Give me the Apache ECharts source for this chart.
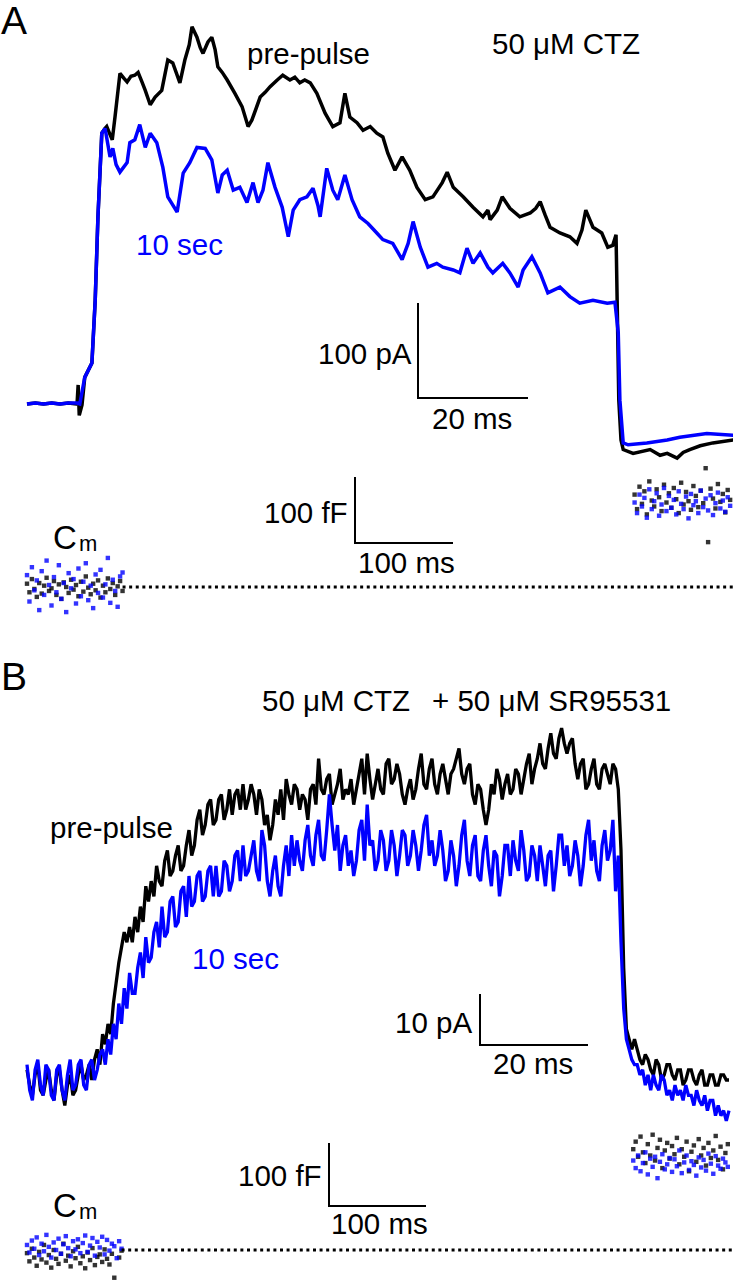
<!DOCTYPE html>
<html><head><meta charset="utf-8">
<script src="https://cdn.jsdelivr.net/npm/echarts@6/dist/echarts.min.js"></script>
<style>html,body{margin:0;padding:0;background:#fff}#c{width:733px;height:1280px}</style>
</head><body><div id="c"></div>
<script>
// ---------- Panel A current traces: [time ms, current pA] ----------
const traceA_prepulse = [
[0,-1],[1.5,0],[3,-1],[4.5,0],[6,-1],[7.5,0],[9.1,-1],[9.3,19],[9.5,-13],[10,-2],[10.5,27],[11.8,42],[12.4,108],[12.9,196],[13.6,284],[14.2,289],[14.5,291],[15.5,277],[16,301],[16.9,347],[17.6,342],[18.2,338],[18.9,344],[19.6,345],[20.2,348],[20.9,338],[21.5,329],[22.4,314],[23.3,322],[24.5,329],[25.6,361],[26.5,358],[27.8,337],[28.7,361],[29.5,377],[30,396],[30.9,385],[31.5,374],[32,368],[32.9,380],[33.6,385],[34.2,372],[34.7,354],[35.5,348],[36.4,340],[37.8,326],[39.1,312],[40.2,291],[40.9,298],[42.4,322],[43.3,327],[44.2,333],[45.5,340],[46.5,345],[47.8,340],[48.7,343],[49.6,337],[50.5,340],[51.5,337],[52.7,326],[54.2,305],[55.6,291],[56.9,295],[57.8,326],[58.7,301],[60,295],[61.1,287],[62.4,291],[63.6,284],[64.7,280],[65.6,263],[66.9,245],[68.2,259],[69.6,245],[70.9,227],[72.4,214],[73.8,217],[75.5,232],[76.4,243],[77.5,227],[79.3,217],[81.1,206],[82.9,196],[83.8,203],[84.2,193],[85.5,203],[86.4,217],[87.8,205],[89.6,196],[91.5,200],[92.5,205],[93.3,212],[94.2,198],[95.1,185],[96.9,179],[98.7,175],[100,168],[100.9,182],[101.6,203],[102.9,185],[104.5,179],[105.6,164],[106.5,166],[107.1,177],[107.3,108],[107.6,3],[108,-39],[108.4,-49],[110.2,-53],[113.3,-49],[115.1,-55],[116.4,-53],[118.2,-58],[119.3,-52],[120.5,-49],[122.4,-45],[124.7,-42],[128.4,-39],[130,-38]
];
const traceA_10sec = [
[0,-1],[1.5,0],[3,-1],[4.5,0],[6,-1],[7.5,0],[9.1,0],[9.6,-1],[10.5,27],[11.8,42],[12.4,108],[12.9,196],[13.6,284],[14.2,289],[15.1,259],[15.6,268],[16.2,251],[16.9,243],[18.2,253],[18.7,274],[19.6,277],[20.5,293],[21.5,269],[22.4,284],[23.6,274],[24.7,248],[25.6,217],[27.3,201],[28.4,242],[29.6,253],[30.9,269],[32.4,268],[33.6,256],[34.7,221],[35.5,240],[36.4,245],[37.5,224],[38.7,227],[40,211],[41.1,232],[42,211],[42.9,224],[43.8,253],[45.1,227],[46.4,206],[47.5,175],[48.4,203],[49.6,214],[50.9,217],[52,226],[52.9,208],[53.3,196],[54.5,247],[55.6,224],[56.5,214],[57.8,240],[59.1,214],[60.5,196],[62,189],[63.6,179],[64.7,172],[66.5,168],[68.2,151],[69.3,168],[70.2,191],[71.5,164],[72.9,143],[74.5,147],[75.6,143],[77.5,140],[78.7,137],[80,163],[81.1,147],[82.4,158],[83.8,143],[84.7,137],[86.5,147],[87.8,137],[89.3,122],[90.2,140],[91.8,154],[93.3,137],[94.7,116],[96.9,122],[98.7,112],[100.5,105],[102.9,108],[105.5,105],[106.9,106],[107.5,74],[107.8,3],[108.4,-42],[109.3,-44],[112.7,-42],[116.4,-39],[118.7,-36],[123.6,-32],[128.4,-34],[130,-33]
];

// ---------- Panel B current traces: sampled every traceB_dt ms, pA ----------
const traceB_dt = 0.5;
const traceB_prepulse = [
2,-1,-3,1,3,-2,-3,0,2,-2, -4,1,2,-2,-5,-1,1,-3,-2,1, 3,0,1,3,0,4,6,3,9,7, 11,9,15,19,23,26,29,27,30,27,
32,29,34,31,38,35,39,36,42,39, 38,43,45,40,41,44,46,41,42,46, 49,44,46,51,53,48,50,54,55,50, 51,55,56,51,53,57,52,56,57,53,
58,53,55,58,56,52,57,55,50,52, 47,50,55,52,57,51,59,56,54,58, 57,53,56,55,51,57,58,54,63,57, 56,59,60,54,56,58,61,55,57,56,
59,54,57,60,63,56,64,59,55,58, 61,57,56,62,63,58,59,62,60,56, 54,57,59,55,57,61,64,58,57,61, 63,58,56,60,62,59,56,60,61,63,
65,60,58,61,62,56,54,58,57,53, 50,53,58,56,61,59,55,58,60,56, 57,61,60,56,59,62,64,58,61,63, 66,62,61,65,68,64,63,67,69,66,
64,66,67,62,59,62,63,57,58,61, 63,58,57,61,62,60,58,62,61,57, 45,22,10,8,6,8,6,4,3,5, 4,2,1,4,3,0,1,3,3,1,
0,2,2,-1,0,2,2,0,-1,1, 2,-1,-1,1,1,-1,-1,1,1,0, 0
];
const traceB_10sec = [
3,-2,-4,2,4,-1,-3,3,2,-3, -4,2,3,-2,-4,1,4,-2,-1,3, 4,-1,-2,3,4,0,2,5,6,3, 8,5,11,8,15,11,18,14,21,17,
17,22,25,20,28,23,24,29,31,26, 34,28,29,35,36,30,31,37,38,32, 40,34,35,40,41,35,36,41,42,36, 42,36,37,43,42,37,39,44,45,39,
46,40,41,44,47,41,39,49,46,39, 36,41,44,38,36,42,46,40,48,42, 47,43,41,47,50,44,42,48,51,44, 43,49,56,50,45,50,41,46,48,42,
45,40,43,49,51,43,54,46,47,41, 43,49,47,41,43,49,46,40,44,49, 48,42,44,49,46,41,45,50,52,44, 47,42,44,49,45,39,41,47,44,38,
42,48,51,43,40,46,48,40,39,45, 48,42,38,45,44,36,40,46,46,40, 47,43,41,49,45,39,40,46,44,39, 46,42,38,44,45,37,42,48,48,42,
46,40,42,47,44,38,42,48,51,43, 47,41,39,46,49,43,45,51,37,44, 27,14,8,6,4,3,3,1,2,-1, 1,-2,1,-1,-2,1,0,-3,-2,-4,
-1,-3,-2,-4,-1,-3,-3,-5,-2,-4, -5,-3,-6,-4,-4,-7,-5,-7,-6,-8, -6
];

// ---------- Membrane capacitance samples (fF), sampled every cmStep ms ----------
const cmStep = 2.5;
const cmA_leftStart = 0, cmA_rightStart = 620, cmB_leftStart = 0, cmB_rightStart = 625;
const cmA_pre_left  = [5,-8,12,-3,-15,6,-10,2,14,-6,-2,9,-12,4,-18,7,0,-9,11,-4,3,-14,8,-7,16,-1,-11,5,-5,10,-16,2,-8,13,-3,6,-12,1,9,-6];
const cmA_10s_left  = [18,-22,30,-5,10,-35,24,-12,40,3,-28,15,-8,33,-18,6,-38,21,-2,12,-25,28,-14,8,36,-20,2,-32,19,-9,26,-16,4,44,-24,11,-6,-30,16,22];
const cmA_pre_right = [140,118,152,126,145,110,160,131,122,148,136,115,155,128,142,120,150,133,112,158,125,144,130,117,153,138,121,146,127,180,68,149,134,119,156,129,141,113,147,132];
const cmA_10s_right = [128,112,140,122,135,105,148,118,130,142,108,125,150,115,138,120,132,110,145,126,118,137,104,141,124,130,112,146,121,134,116,139,109,127,143,119,131,114,136,123];
const cmB_pre_left  = [-5,-18,2,-12,-25,-3,-15,8,-20,-8,-28,0,-14,-22,-6,10,-17,-9,-26,-2,-13,5,-21,-10,-29,-4,-16,3,-24,-11,-7,-19,1,-14,-23,-6,-44,-54,-12,-1];
const cmB_10s_left  = [8,-4,15,2,20,-8,10,-2,24,5,-12,12,0,18,-6,9,22,3,-10,14,1,17,-5,11,23,-3,7,19,-9,13,4,21,-7,16,-1,10,6,-13,14,2];
const cmB_pre_right = [160,172,148,180,155,138,168,150,183,142,162,175,130,158,170,145,165,152,178,136,160,148,172,125,156,166,140,176,150,162,134,170,146,158,181,143,164,128,154,168];
const cmB_10s_right = [142,130,150,125,138,155,120,145,132,148,114,140,152,128,136,146,124,144,133,158,122,139,150,127,141,135,118,147,131,143,126,153,137,121,149,134,129,145,139,132];
const cmBaseline = 0;
const cmEnd = 740;

// ---------- Labels ----------
const labels = {
  panelA: 'A', panelB: 'B', prepulse: 'pre-pulse', tenSec: '10 sec',
  drugA: '50 \u03bcM CTZ', drugB1: '50 \u03bcM CTZ', drugB2: '+ 50 \u03bcM SR95531',
  pA100: '100 pA', pA10: '10 pA', ms20: '20 ms', fF100: '100 fF', ms100: '100 ms', cmC: 'C', cmSub: 'm'
};
const scaleA = {t: 20, v: 100}, scaleB = {t: 20, v: 10}, scaleCm = {t: 100, v: 100};

const BLUE = '#0000ff', BLACK = '#000000';
const FONT = "'Liberation Sans', Arial, sans-serif";

const uni = (arr, dt, t0) => arr.map((v, i) => [t0 + i * dt, v]);

const chart = echarts.init(document.getElementById('c'), null, {renderer: 'svg', width: 733, height: 1280});

const hiddenAxis = (gi, min, max) => ({type: 'value', gridIndex: gi, min, max, show: false, axisLine:{show:false}, splitLine:{show:false}});

function lineSeries(ai, data, color, w) {
  return {type: 'line', xAxisIndex: ai, yAxisIndex: ai, data, showSymbol: false, symbol: 'none',
    clip: false, silent: true, lineStyle: {color, width: w, join: 'miter', miterLimit: 2}, animation: false};
}
function dotSeries(ai, data, color) {
  return {type: 'scatter', xAxisIndex: ai, yAxisIndex: ai, data, symbol: 'rect', symbolSize: 4.4,
    clip: false, silent: true, itemStyle: {color}, animation: false};
}

const cmLeftEndA = cmA_leftStart + (cmA_pre_left.length - 1) * cmStep;
const cmLeftEndB = cmB_leftStart + (cmB_pre_left.length - 1) * cmStep;

const G = (o) => Object.assign({outerBoundsMode: 'none', containLabel: false}, o);

chart.setOption({
  animation: false,
  backgroundColor: '#ffffff',
  grid: [
    G({left: 27, top: 4, width: 706, height: 494}),
    G({left: 27, top: 455, width: 706, height: 198}),
    G({left: 27, top: 697.5, width: 706, height: 459}),
    G({left: 27, top: 1124, width: 706, height: 154.35})
  ],
  xAxis: [hiddenAxis(0, 0, 706 / 5.5), hiddenAxis(1, 0, 706 / 0.98), hiddenAxis(2, 0, 706 / 5.4), hiddenAxis(3, 0, 706 / 0.97)],
  yAxis: [hiddenAxis(0, -100, 420), hiddenAxis(1, -100, 200), hiddenAxis(2, -15, 75), hiddenAxis(3, -45, 200)],
  series: [
    lineSeries(0, traceA_prepulse, BLACK, 3.5),
    lineSeries(0, traceA_10sec, BLUE, 3.5),
    lineSeries(2, uni(traceB_prepulse, traceB_dt, 0), BLACK, 3.3),
    lineSeries(2, uni(traceB_10sec, traceB_dt, 0), BLUE, 3.3),
    {type: 'line', xAxisIndex: 1, yAxisIndex: 1, data: [[cmLeftEndA, cmBaseline], [cmEnd, cmBaseline]], showSymbol: false, symbol:'none', silent: true,
      lineStyle: {color: BLACK, width: 3, type: [3, 3.6], cap: 'butt'}},
    {type: 'line', xAxisIndex: 3, yAxisIndex: 3, data: [[cmLeftEndB, cmBaseline], [cmEnd, cmBaseline]], showSymbol: false, symbol:'none', silent: true,
      lineStyle: {color: BLACK, width: 3, type: [3, 3.6], cap: 'butt'}},
    dotSeries(1, uni(cmA_pre_left, cmStep, cmA_leftStart), BLACK),
    dotSeries(1, uni(cmA_10s_left, cmStep, cmA_leftStart), BLUE),
    dotSeries(1, uni(cmA_pre_right, cmStep, cmA_rightStart), BLACK),
    dotSeries(1, uni(cmA_10s_right, cmStep, cmA_rightStart), BLUE),
    dotSeries(3, uni(cmB_pre_left, cmStep, cmB_leftStart), BLACK),
    dotSeries(3, uni(cmB_10s_left, cmStep, cmB_leftStart), BLUE),
    dotSeries(3, uni(cmB_pre_right, cmStep, cmB_rightStart), BLACK),
    dotSeries(3, uni(cmB_10s_right, cmStep, cmB_rightStart), BLUE)
  ]
});

function scaleBar(ai, x0, y0, s) {
  const p0 = chart.convertToPixel({xAxisIndex: ai, yAxisIndex: ai}, [0, 0]);
  const p1 = chart.convertToPixel({xAxisIndex: ai, yAxisIndex: ai}, [s.t, s.v]);
  const w = p1[0] - p0[0], h = p0[1] - p1[1];
  return {type: 'polyline', silent: true, shape: {points: [[x0, y0 - h], [x0, y0], [x0 + w, y0]]},
    style: {stroke: BLACK, lineWidth: 2, fill: null}};
}
function txt(text, x, y, size, color) {
  return {type: 'text', x, y, silent: true,
    style: {text, font: size + 'px ' + FONT, fill: color || BLACK, align: 'left', verticalAlign: 'middle'}};
}

chart.setOption({
  graphic: [
    scaleBar(0, 418, 398, scaleA),
    scaleBar(1, 355, 543, scaleCm),
    scaleBar(2, 480, 1045, scaleB),
    scaleBar(3, 329, 1206, scaleCm),
    txt(labels.panelA, 1, 20, 39),
    txt(labels.prepulse, 247, 53, 29.5),
    txt(labels.drugA, 492, 43, 29.5),
    txt(labels.tenSec, 136, 244, 29.5, BLUE),
    txt(labels.pA100, 318, 353, 29.5),
    txt(labels.ms20, 432, 418, 29.5),
    txt(labels.fF100, 264, 512, 29.5),
    txt(labels.ms100, 358, 562, 29.5),
    txt(labels.cmC, 53, 537, 33),
    txt(labels.cmSub, 79, 543, 22),
    txt(labels.panelB, 1, 676, 39),
    txt(labels.drugB1, 262, 700, 29.5),
    txt(labels.drugB2, 432, 700, 29.5),
    txt(labels.prepulse, 50, 827, 29.5),
    txt(labels.tenSec, 192, 958, 29.5, BLUE),
    txt(labels.pA10, 395, 1022, 29.5),
    txt(labels.ms20, 493, 1063, 29.5),
    txt(labels.fF100, 238, 1175, 29.5),
    txt(labels.ms100, 331, 1223, 29.5),
    txt(labels.cmC, 53, 1205, 33),
    txt(labels.cmSub, 79, 1211, 22)
  ]
});
</script>
</body></html>
